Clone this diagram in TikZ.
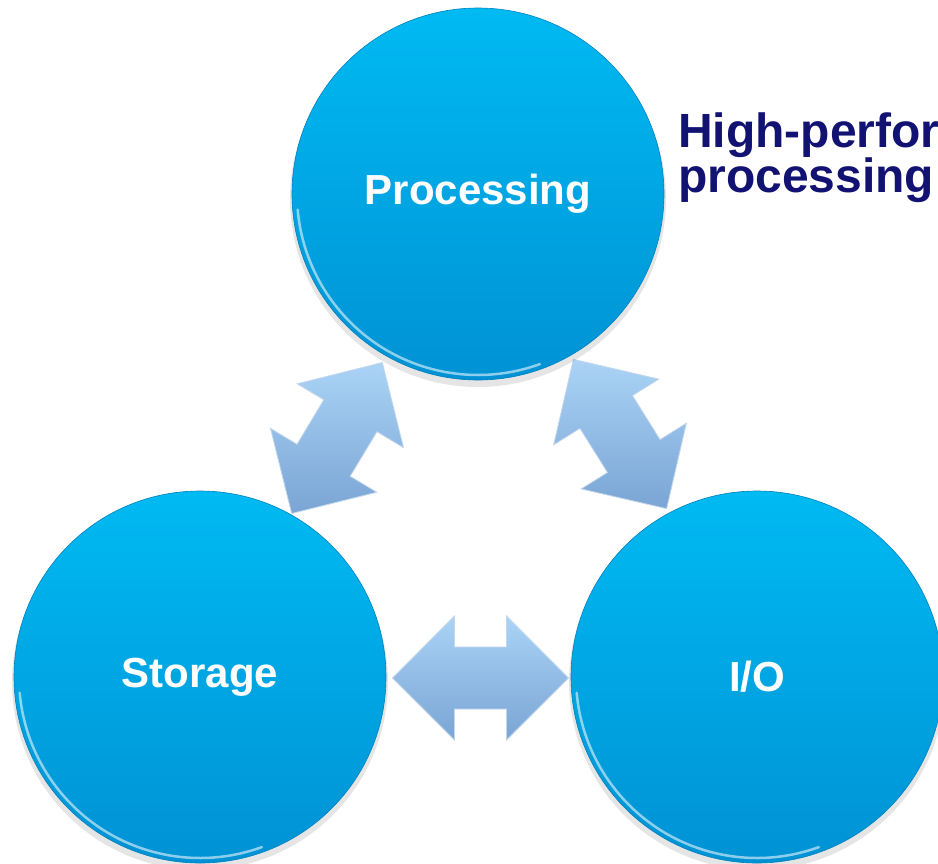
\documentclass[tikz,border=0pt]{standalone}
\usepackage{fontspec}
\setmainfont{Liberation Sans}
\usetikzlibrary{calc}
\definecolor{ctop}{RGB}{0,186,242}
\definecolor{cbot}{RGB}{0,146,212}
\definecolor{crim}{RGB}{0,128,190}
\definecolor{atop}{RGB}{170,211,246}
\definecolor{abot}{RGB}{122,165,212}
\definecolor{navy}{RGB}{18,18,115}
\tikzset{
  bubble/.style={circle, minimum size=372pt, inner sep=0pt, top color=ctop, bottom color=cbot, draw=crim, line width=0.6pt},
  bubbletext/.style={font=\fontsize{42}{50}\selectfont\bfseries, text=white, inner sep=0pt},
  bubbleshadow/.style={fill=black, opacity=0.10},
  rimlight/.style={draw=white, opacity=0.55, line width=2.5pt, line cap=round},
  blockarrow/.style={top color=atop, bottom color=abot, draw=white!55!abot, line width=0.8pt, line join=miter},
  note/.style={font=\fontsize{48}{45}\selectfont\bfseries, text=navy, anchor=base west, inner sep=0pt},
}
\begin{document}
\begin{tikzpicture}[x=1pt,y=-1pt]
\useasboundingbox (0,0) rectangle (938,863);
\clip (0,0) rectangle (938,863);
\fill[white] (0,0) rectangle (938,863);

% block double arrows
\foreach \mx/\my/\ang in {337/438/59, 620/434/-58, 480.5/678/0}{
  \begin{scope}[shift={(\mx,\my)}, rotate=\ang]
    \path[blockarrow] (-88,0) -- (-26,-62) -- (-26,-31) -- (26,-31) -- (26,-62)
      -- (88,0) -- (26,62) -- (26,31) -- (-26,31) -- (-26,62) -- cycle;
  \end{scope}
}

% soft shadows
\fill[bubbleshadow] (478,199) circle[radius=188pt];
\fill[bubbleshadow] (200,682) circle[radius=188pt];
\fill[bubbleshadow] (757,682) circle[radius=188pt];

% circles
\node[bubble] (proc) at (478,194) {};
\node[bubble] (stor) at (200,677) {};
\node[bubble] (io)   at (757,677) {};

% rim highlights
\foreach \c in {proc,stor,io}{
  \draw[rimlight] ($(\c.center)+(185:181pt)$) arc[start angle=185, end angle=290, radius=181pt];
}

% labels
\node[bubbletext] (procl) at (proc) {Processing};
\node[bubbletext] (storl) at (stor) {Storage};
\node[bubbletext] (iol) at (io) {I/O};

% side note
\node[note] (hp1) at (678,147) {High-perfor};
\node[note] (hp2) at (678,192) {processing};
\end{tikzpicture}
\end{document}
